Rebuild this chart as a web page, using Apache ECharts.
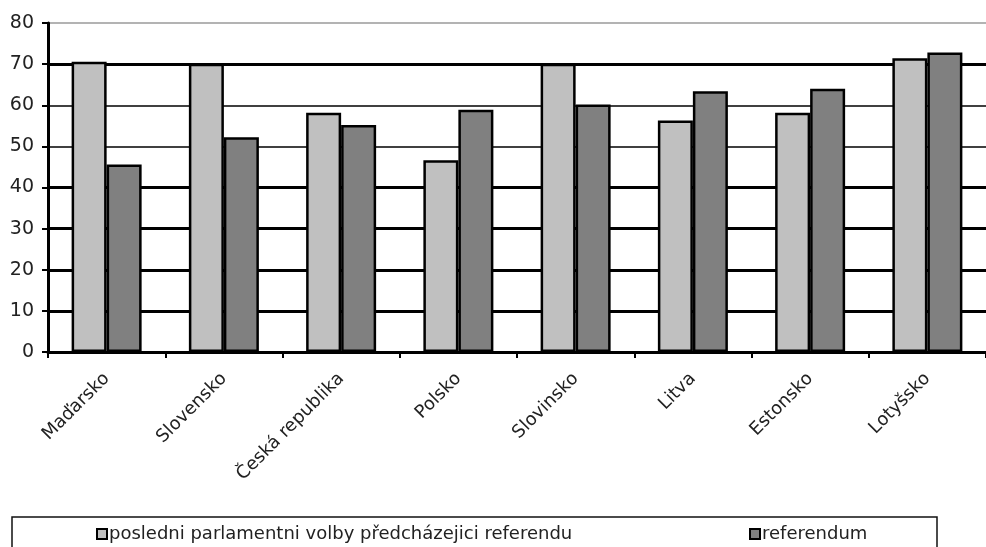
<!DOCTYPE html>
<html>
<head>
<meta charset="utf-8">
<script src="https://cdn.jsdelivr.net/npm/echarts@6/dist/echarts.min.js"></script>
<style>
html,body{margin:0;padding:0;background:#fff;}
#chart{width:986px;height:547px;}
</style>
</head>
<body>
<div id="chart"></div>
<script>
const categories = ['Maďarsko','Slovensko','Česká republika','Polsko','Slovinsko','Litva','Estonsko','Lotyšsko'];
const seriesNames = ['posledni parlamentni volby předcházejici referendu','referendum'];
const electionValues = [70.6, 70.1, 58.2, 46.6, 70.1, 56.3, 58.2, 71.4];
const referendumValues = [45.6, 52.2, 55.2, 58.9, 60.2, 63.4, 64.0, 72.8];
const yTicks = [0,10,20,30,40,50,60,70,80];

const chart = echarts.init(document.getElementById('chart'));
const T = 'transparent';
const fontFam = 'DejaVu Sans';
chart.setOption({
  backgroundColor: '#fff',
  animation: false,
  graphic: [{
    type: 'rect', z: 0,
    shape: {x: 12, y: 517, width: 925, height: 45},
    style: {fill: '#fff', stroke: '#111', lineWidth: 1.5}
  }],
  legend: [{
    data: [seriesNames[0]],
    left: 91, top: 520,
    icon: 'rect', itemWidth: 10, itemHeight: 10, itemGap: 4,
    textStyle: {fontFamily: fontFam, fontSize: 18, color: '#222', padding: [0,0,0,-3]}
  },{
    data: [seriesNames[1]],
    left: 744, top: 520,
    icon: 'rect', itemWidth: 10, itemHeight: 10, itemGap: 4,
    textStyle: {fontFamily: fontFam, fontSize: 18, color: '#222', padding: [0,0,0,-3]}
  }],
  grid: {left: 48, right: -5, top: 23, bottom: 195},
  xAxis: {
    type: 'category',
    data: categories,
    axisLine: {lineStyle: {color: '#000', width: 3}},
    axisTick: {show: true, length: 6, lineStyle: {color: '#000', width: 2}},
    axisLabel: {rotate: 45, margin: 24, fontFamily: fontFam, fontSize: 18, color: '#222', interval: 0}
  },
  yAxis: [{
    type: 'value', min: 0, max: 80, interval: 10, position: 'left',
    axisLine: {show: true, lineStyle: {color: '#000', width: 3}},
    axisTick: {show: true, length: 6, lineStyle: {color: '#000', width: 2}},
    axisLabel: {margin: 14, fontFamily: fontFam, fontSize: 19, color: '#222',
      formatter: v => yTicks.includes(v) ? String(v) : ''},
    splitLine: {show: true, lineStyle: {width: 3, color: [T,'#000','#000','#000','#000',T,T,'#000',T]}}
  },{
    type: 'value', min: 0, max: 80, interval: 10, position: 'left',
    axisLine: {show: false}, axisTick: {show: false}, axisLabel: {show: false},
    splitLine: {show: true, lineStyle: {width: 1.6, color: [T,T,T,T,T,'#000','#000',T,'#9a9a9a']}}
  }],
  series: [{
    name: seriesNames[0], type: 'bar', data: electionValues,
    barWidth: 35, barGap: '0%',
    itemStyle: {color: '#c0c0c0', borderColor: '#000', borderWidth: 2.5}
  },{
    name: seriesNames[1], type: 'bar', data: referendumValues,
    barWidth: 35, barGap: '0%',
    itemStyle: {color: '#808080', borderColor: '#000', borderWidth: 2.5}
  }]
});
</script>
</body>
</html>
